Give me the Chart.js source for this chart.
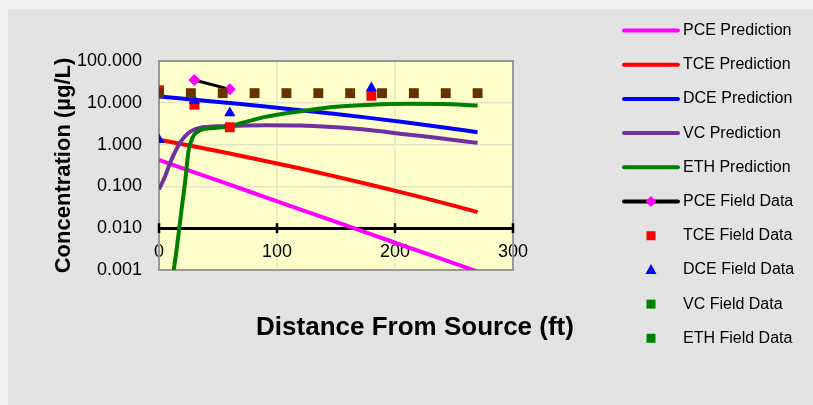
<!DOCTYPE html>
<html>
<head>
<meta charset="utf-8">
<script src="https://cdn.jsdelivr.net/npm/chart.js"></script>
<style>
  body { margin: 0; background: #e3e3e3; }
  #wrap { width: 813px; height: 405px; }
</style>
</head>
<body>
<div id="wrap"><canvas id="chart" width="813" height="405"></canvas></div>
<script>
// prediction curves (distance in ft, concentration in ug/L)
const predDist = [0, 30, 60, 90, 120, 150, 180, 210, 240, 270];
const pcePred = [0.43, 0.217, 0.11, 0.0553, 0.0279, 0.0141, 0.00711, 0.00359, 0.00181, 0.000914];
const tcePred = [1.3, 0.9, 0.611, 0.407, 0.267, 0.171, 0.108, 0.067, 0.041, 0.0243];
const dcePred = [14.2, 11.9, 9.86, 8.15, 6.67, 5.4, 4.3, 3.38, 2.61, 1.97];

const vcDist = [0, 5, 10, 15, 20, 25, 30, 35, 40, 50, 60, 90, 120, 150, 180, 210, 240, 270];
const vcPred = [0.085, 0.17, 0.4, 0.8, 1.35, 1.9, 2.3, 2.55, 2.65, 2.75, 2.8, 2.9, 2.85, 2.6, 2.2, 1.75, 1.4, 1.1];

const ethDist = [12, 15, 18, 20, 22, 25, 27, 30, 35, 40, 50, 60, 70, 80, 90, 100, 120, 150, 180, 210, 240, 270];
const ethPred = [0.0008, 0.0032, 0.0155, 0.044, 0.12, 0.7, 1.15, 1.75, 2.2, 2.4, 2.55, 2.7, 3.3, 3.9, 4.6, 5.2, 6.3, 8.0, 9.0, 9.5, 9.4, 8.6];

// field data
const pceFieldDist = [30, 60];
const pceField = [35, 21];
const fieldDist = [0, 30, 60, 180];
const tceField = [20, 9, 2.6, 14.7];
const dceField = [1.3, 11.3, 5.7, 22.5];
const vcFieldDist = [];
const vcField = [];
const ethFieldDist = [0, 27, 54, 81, 108, 135, 162, 189, 216, 243, 270];
const ethField = [17, 17, 17, 17, 17, 17, 17, 17, 17, 17, 17];

const xTicks = [0, 100, 200, 300];
const yTicks = [0.001, 0.01, 0.1, 1, 10, 100];

const FONT = '"Liberation Sans", Arial, sans-serif';
const GRID = '#e6e6c6';

function pts(xs, ys) {
  return xs.map((x, i) => ({ x: x, y: ys[i] }));
}

function predLine(label, xs, ys, color) {
  return {
    label: label, data: pts(xs, ys),
    borderColor: color, backgroundColor: color, borderWidth: 4,
    pointRadius: 0, cubicInterpolationMode: 'monotone', showLine: true
  };
}

function fieldPts(label, xs, ys, color, style, radius, legendColor) {
  return {
    label: label, data: pts(xs, ys), showLine: false,
    borderColor: color, backgroundColor: color,
    pointBackgroundColor: color, pointBorderColor: color, pointBorderWidth: 0,
    pointStyle: style, pointRadius: radius, legendColor: legendColor || color
  };
}

const datasets = [
  predLine('PCE Prediction', predDist, pcePred, '#ff00ff'),
  predLine('TCE Prediction', predDist, tcePred, '#ff0000'),
  predLine('DCE Prediction', predDist, dcePred, '#0000ff'),
  predLine('VC Prediction', vcDist, vcPred, '#7030a0'),
  predLine('ETH Prediction', ethDist, ethPred, '#008000'),
  {
    label: 'PCE Field Data', data: pts(pceFieldDist, pceField), showLine: true,
    borderColor: '#000000', borderWidth: 3, backgroundColor: '#ff00ff',
    pointBackgroundColor: '#ff00ff', pointBorderColor: '#ff00ff', pointBorderWidth: 0,
    pointStyle: 'rectRot', pointRadius: 6, legendColor: '#ff00ff'
  },
  fieldPts('TCE Field Data', fieldDist, tceField, '#ff0000', 'rect', 7),
  fieldPts('DCE Field Data', fieldDist, dceField, '#0000ff', 'triangle', 6.5),
  fieldPts('VC Field Data', vcFieldDist, vcField, '#008000', 'rect', 7),
  fieldPts('ETH Field Data', ethFieldDist, ethField, '#663300', 'rect', 7, '#008000')
];
// later series on top, like the spreadsheet
datasets.forEach((d, i) => { d.order = datasets.length - i; });

const backdrop = {
  id: 'backdrop',
  beforeDraw(chart) {
    const { ctx, chartArea: a } = chart;
    ctx.save();
    ctx.fillStyle = '#f2f2f2';
    ctx.fillRect(0, 0, chart.width, chart.height);
    ctx.fillStyle = '#e3e3e3';
    ctx.fillRect(8, 9, chart.width - 8, chart.height - 9);
    ctx.fillStyle = '#ffffcc';
    ctx.fillRect(a.left, a.top, a.right - a.left, a.bottom - a.top);
    ctx.restore();
  },
  beforeDatasetsDraw(chart) {
    const { ctx, chartArea: a, scales } = chart;
    ctx.save();
    // plot frame
    ctx.strokeStyle = '#999999';
    ctx.lineWidth = 2;
    ctx.strokeRect(a.left, a.top, a.right - a.left, a.bottom - a.top);
    // tick marks crossing the x axis line
    const yAxis = scales.y.getPixelForValue(0.01);
    ctx.strokeStyle = '#000';
    ctx.lineWidth = 2.5;
    scales.x.ticks.forEach(t => {
      const px = scales.x.getPixelForValue(t.value);
      ctx.beginPath();
      ctx.moveTo(px, yAxis - 5);
      ctx.lineTo(px, yAxis + 5);
      ctx.stroke();
    });
    ctx.restore();
  }
};

const sideLegend = {
  id: 'sideLegend',
  afterDraw(chart) {
    const ctx = chart.ctx;
    ctx.save();
    ctx.font = '16px ' + FONT;
    ctx.textBaseline = 'middle';
    chart.data.datasets.forEach((ds, i) => {
      const y = 30.5 + i * 34.2;
      if (ds.showLine) {
        ctx.strokeStyle = ds.borderColor;
        ctx.lineWidth = 4;
        ctx.lineCap = 'round';
        ctx.beginPath();
        ctx.moveTo(624, y);
        ctx.lineTo(678, y);
        ctx.stroke();
      }
      if (ds.pointRadius > 0) {
        const cx = 651;
        ctx.fillStyle = ds.legendColor;
        ctx.beginPath();
        if (ds.pointStyle === 'rect') {
          ctx.rect(cx - 4.5, y - 4.5, 9, 9);
        } else if (ds.pointStyle === 'triangle') {
          ctx.moveTo(cx, y - 6);
          ctx.lineTo(cx + 5.5, y + 4);
          ctx.lineTo(cx - 5.5, y + 4);
          ctx.closePath();
        } else {
          ctx.moveTo(cx, y - 5.5);
          ctx.lineTo(cx + 5.5, y);
          ctx.lineTo(cx, y + 5.5);
          ctx.lineTo(cx - 5.5, y);
          ctx.closePath();
        }
        ctx.fill();
      }
      ctx.fillStyle = '#000';
      ctx.fillText(ds.label, 683, y);
    });
    ctx.restore();
  }
};

const xTitle = {
  id: 'xTitle',
  afterDraw(chart) {
    const ctx = chart.ctx;
    ctx.save();
    ctx.font = 'bold 26px ' + FONT;
    ctx.fillStyle = '#000';
    ctx.textAlign = 'center';
    ctx.textBaseline = 'middle';
    ctx.fillText('Distance From Source (ft)', 415, 328);
    ctx.restore();
  }
};

new Chart(document.getElementById('chart'), {
  type: 'line',
  data: { datasets: datasets },
  plugins: [backdrop, sideLegend, xTitle],
  options: {
    responsive: false,
    animation: false,
    layout: { padding: { left: 45, top: 61, right: 300, bottom: 135 } },
    plugins: {
      legend: { display: false },
      tooltip: { enabled: false }
    },
    scales: {
      x: {
        type: 'linear',
        min: 0, max: 300,
        position: { y: 0.01 },
        afterBuildTicks: (scale) => { scale.ticks = xTicks.map(v => ({ value: v })); },
        ticks: { color: '#000', font: { family: FONT, size: 18 }, padding: 13 },
        grid: {
          drawTicks: false, lineWidth: 1.5,
          color: (c) => (c.tick && (c.tick.value === 100 || c.tick.value === 200)) ? GRID : 'transparent'
        },
        border: { display: true, color: '#000', width: 3 }
      },
      y: {
        type: 'logarithmic',
        min: 0.001, max: 100,
        afterBuildTicks: (scale) => { scale.ticks = yTicks.map(v => ({ value: v })); },
        afterFit: (scale) => { scale.width = 114; },
        ticks: {
          color: '#000', font: { family: FONT, size: 18 }, padding: 17,
          callback: (v) => Number(v).toFixed(3)
        },
        grid: {
          drawTicks: false, lineWidth: 1.5,
          color: (c) => (c.tick && [0.1, 1, 10].includes(c.tick.value)) ? GRID : 'transparent'
        },
        border: { display: false },
        title: {
          display: true, text: 'Concentration (µg/L)', color: '#000',
          font: { family: FONT, size: 22, weight: 'bold' },
          padding: { top: 6, bottom: 0 }
        }
      }
    }
  }
});
</script>
</body>
</html>
